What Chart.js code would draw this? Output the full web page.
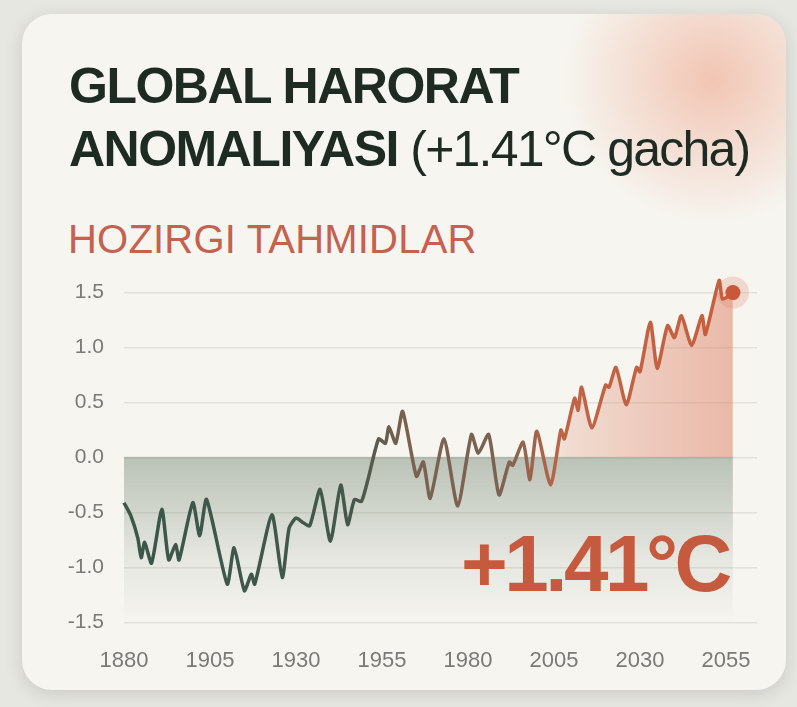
<!DOCTYPE html>
<html>
<head>
<meta charset="utf-8">
<script src="https://cdn.jsdelivr.net/npm/chart.js@4.4.0/dist/chart.umd.min.js"></script>
<style>
  html, body { margin: 0; padding: 0; }
  body {
    width: 797px; height: 707px; overflow: hidden; position: relative;
    background: #e7e7e2;
    font-family: "Liberation Sans", Arial, sans-serif;
  }
  .card {
    position: absolute; left: 22px; top: 14px; width: 764px; height: 676px;
    border-radius: 30px; background: #f6f5f0; overflow: hidden;
    box-shadow: 0 4px 18px rgba(0, 0, 0, 0.13);
  }
  .glow {
    position: absolute; left: 520px; top: -100px; width: 340px; height: 330px;
    background: radial-gradient(ellipse at center, rgba(238, 165, 138, 0.6), rgba(238, 165, 138, 0) 62%);
  }
  .title {
    position: absolute; left: 69px; top: 55px; margin: 0;
    font-size: 50px; line-height: 63px; color: #1d2b23;
    letter-spacing: -1.5px; white-space: nowrap;
  }
  .title b { font-weight: 700; }
  .title span { font-weight: 400; letter-spacing: -1.8px; }
  .subtitle {
    position: absolute; left: 68px; top: 219px;
    font-size: 40px; line-height: 40px; color: #c4614f; white-space: nowrap;
    letter-spacing: 0.2px;
  }
  .big {
    position: absolute; left: 461px; top: 524px;
    font-size: 80px; line-height: 80px; font-weight: 700; color: #c65a3e;
    letter-spacing: -3.5px; white-space: nowrap;
  }
  .chart-box { position: absolute; left: 40px; top: 260px; width: 740px; height: 440px; }
</style>
</head>
<body>
<div class="card"><div class="glow"></div></div>
<div class="title"><b>GLOBAL HARORAT</b><br><b>ANOMALIYASI</b> <span>(+1.41°C gacha)</span></div>
<div class="subtitle">HOZIRGI TAHMIDLAR</div>
<div class="chart-box"><canvas id="chart"></canvas></div>
<div class="big">+1.41°C</div>

<script>
// ma'lumotlar (rasmdan o'qilgan)
const years = [1880, 1882, 1884, 1885, 1886, 1888, 1891, 1893, 1895, 1896,
  1900, 1902, 1904, 1910, 1912, 1915, 1917, 1918, 1923, 1926,
  1928, 1930, 1932, 1934, 1937, 1940, 1943, 1945, 1947, 1949,
  1951, 1954, 1956, 1957, 1959, 1961, 1965, 1967, 1969, 1973,
  1977, 1981, 1983, 1986, 1989, 1992, 1993, 1996, 1998, 2000,
  2004, 2007, 2008, 2011, 2012, 2013, 2016, 2020, 2021, 2023,
  2026, 2029, 2030, 2033, 2035, 2038, 2040, 2042, 2045, 2048,
  2049, 2053, 2054, 2057];
const anomaly = [-0.41, -0.53, -0.73, -0.91, -0.77, -0.96, -0.47, -0.93, -0.79, -0.93,
  -0.41, -0.71, -0.38, -1.15, -0.82, -1.21, -1.06, -1.15, -0.52, -1.09,
  -0.64, -0.55, -0.59, -0.62, -0.29, -0.76, -0.25, -0.61, -0.38, -0.40,
  -0.19, 0.17, 0.13, 0.28, 0.13, 0.42, -0.17, -0.04, -0.37, 0.17,
  -0.44, 0.21, 0.04, 0.21, -0.34, -0.04, -0.07, 0.14, -0.20, 0.24,
  -0.25, 0.25, 0.17, 0.54, 0.43, 0.64, 0.27, 0.66, 0.64, 0.82,
  0.48, 0.82, 0.78, 1.23, 0.81, 1.20, 1.09, 1.29, 1.02, 1.29,
  1.12, 1.61, 1.44, 1.50];
const xTicks = [1880, 1905, 1930, 1955, 1980, 2005, 2030, 2055];
const yTicks = [-1.5, -1.0, -0.5, 0.0, 0.5, 1.0, 1.5];

const lastIdx = years.length - 1;
const points = years.map((y, i) => ({ x: y, y: anomaly[i] }));

// chiziq rangi: yashil -> jigarrang -> marjon
function lineColor(context) {
  const chart = context.chart;
  if (!chart.chartArea) return '#3e5a4e';
  const x = chart.scales.x;
  const g = chart.ctx.createLinearGradient(x.getPixelForValue(1880), 0, x.getPixelForValue(2057), 0);
  g.addColorStop(0, '#3a574a');
  g.addColorStop(0.38, '#43584b');
  g.addColorStop(0.46, '#7a6150');
  g.addColorStop(0.62, '#7b6352');
  g.addColorStop(0.72, '#bd6548');
  g.addColorStop(1, '#c85d3d');
  return g;
}

// noldan yuqori maydon
function warmFill(context) {
  const chart = context.chart;
  if (!chart.chartArea) return 'rgba(0,0,0,0)';
  const x = chart.scales.x;
  const g = chart.ctx.createLinearGradient(x.getPixelForValue(1998), 0, x.getPixelForValue(2057), 0);
  g.addColorStop(0, 'rgba(222,125,95,0)');
  g.addColorStop(0.2, 'rgba(222,125,95,0.22)');
  g.addColorStop(1, 'rgba(222,125,95,0.5)');
  return g;
}

// noldan pastdagi kulrang-yashil polosa
function coolBand(context) {
  const chart = context.chart;
  if (!chart.chartArea) return 'rgba(0,0,0,0)';
  const y = chart.scales.y;
  const g = chart.ctx.createLinearGradient(0, y.getPixelForValue(0), 0, y.getPixelForValue(-1.5));
  g.addColorStop(0, 'rgba(105,125,105,0.42)');
  g.addColorStop(0.6, 'rgba(105,125,105,0.12)');
  g.addColorStop(1, 'rgba(105,125,105,0)');
  return g;
}

new Chart(document.getElementById('chart').getContext('2d'), {
  type: 'line',
  data: {
    datasets: [
      {
        label: 'Anomaliya',
        data: points,
        borderColor: lineColor,
        borderWidth: 3.5,
        tension: 0.2,
        fill: { target: { value: 0 }, above: warmFill, below: 'rgba(0,0,0,0)' },
        pointRadius: ctx => ctx.dataIndex === lastIdx ? 7.5 : 0,
        pointBackgroundColor: '#c9583a',
        pointBorderWidth: 0,
        clip: false
      },
      {
        label: 'halo',
        data: [{ x: years[lastIdx], y: anomaly[lastIdx] }],
        showLine: false,
        pointRadius: 16,
        pointBackgroundColor: 'rgba(228,150,128,0.3)',
        pointBorderWidth: 0,
        clip: false
      },
      {
        label: 'band',
        data: [{ x: years[0], y: 0 }, { x: years[lastIdx], y: 0 }],
        borderColor: 'rgba(120,135,120,0.3)',
        borderWidth: 1.5,
        pointRadius: 0,
        fill: 'start',
        backgroundColor: coolBand
      }
    ]
  },
  options: {
    responsive: true,
    maintainAspectRatio: false,
    animation: false,
    layout: { padding: { top: 27, right: 23, bottom: 9, left: 0 } },
    plugins: { legend: { display: false }, tooltip: { enabled: false } },
    scales: {
      x: {
        type: 'linear',
        min: 1880,
        max: 2064,
        afterBuildTicks: axis => { axis.ticks = xTicks.map(v => ({ value: v })); },
        ticks: {
          callback: v => String(v),
          font: { family: 'Liberation Sans', size: 22 },
          color: '#7a7a76',
          padding: 17,
          maxRotation: 0
        },
        grid: { display: false },
        border: { display: false }
      },
      y: {
        min: -1.5,
        max: 1.5,
        afterBuildTicks: axis => { axis.ticks = yTicks.map(v => ({ value: v })); },
        afterFit: axis => { axis.width = 84; },
        ticks: {
          callback: v => v.toFixed(1),
          font: { family: 'Liberation Sans', size: 21 },
          color: '#7a7a76',
          padding: 20
        },
        grid: { color: '#e1e1da', lineWidth: 1.5, drawTicks: false },
        border: { display: false }
      }
    }
  }
});
</script>
</body>
</html>
